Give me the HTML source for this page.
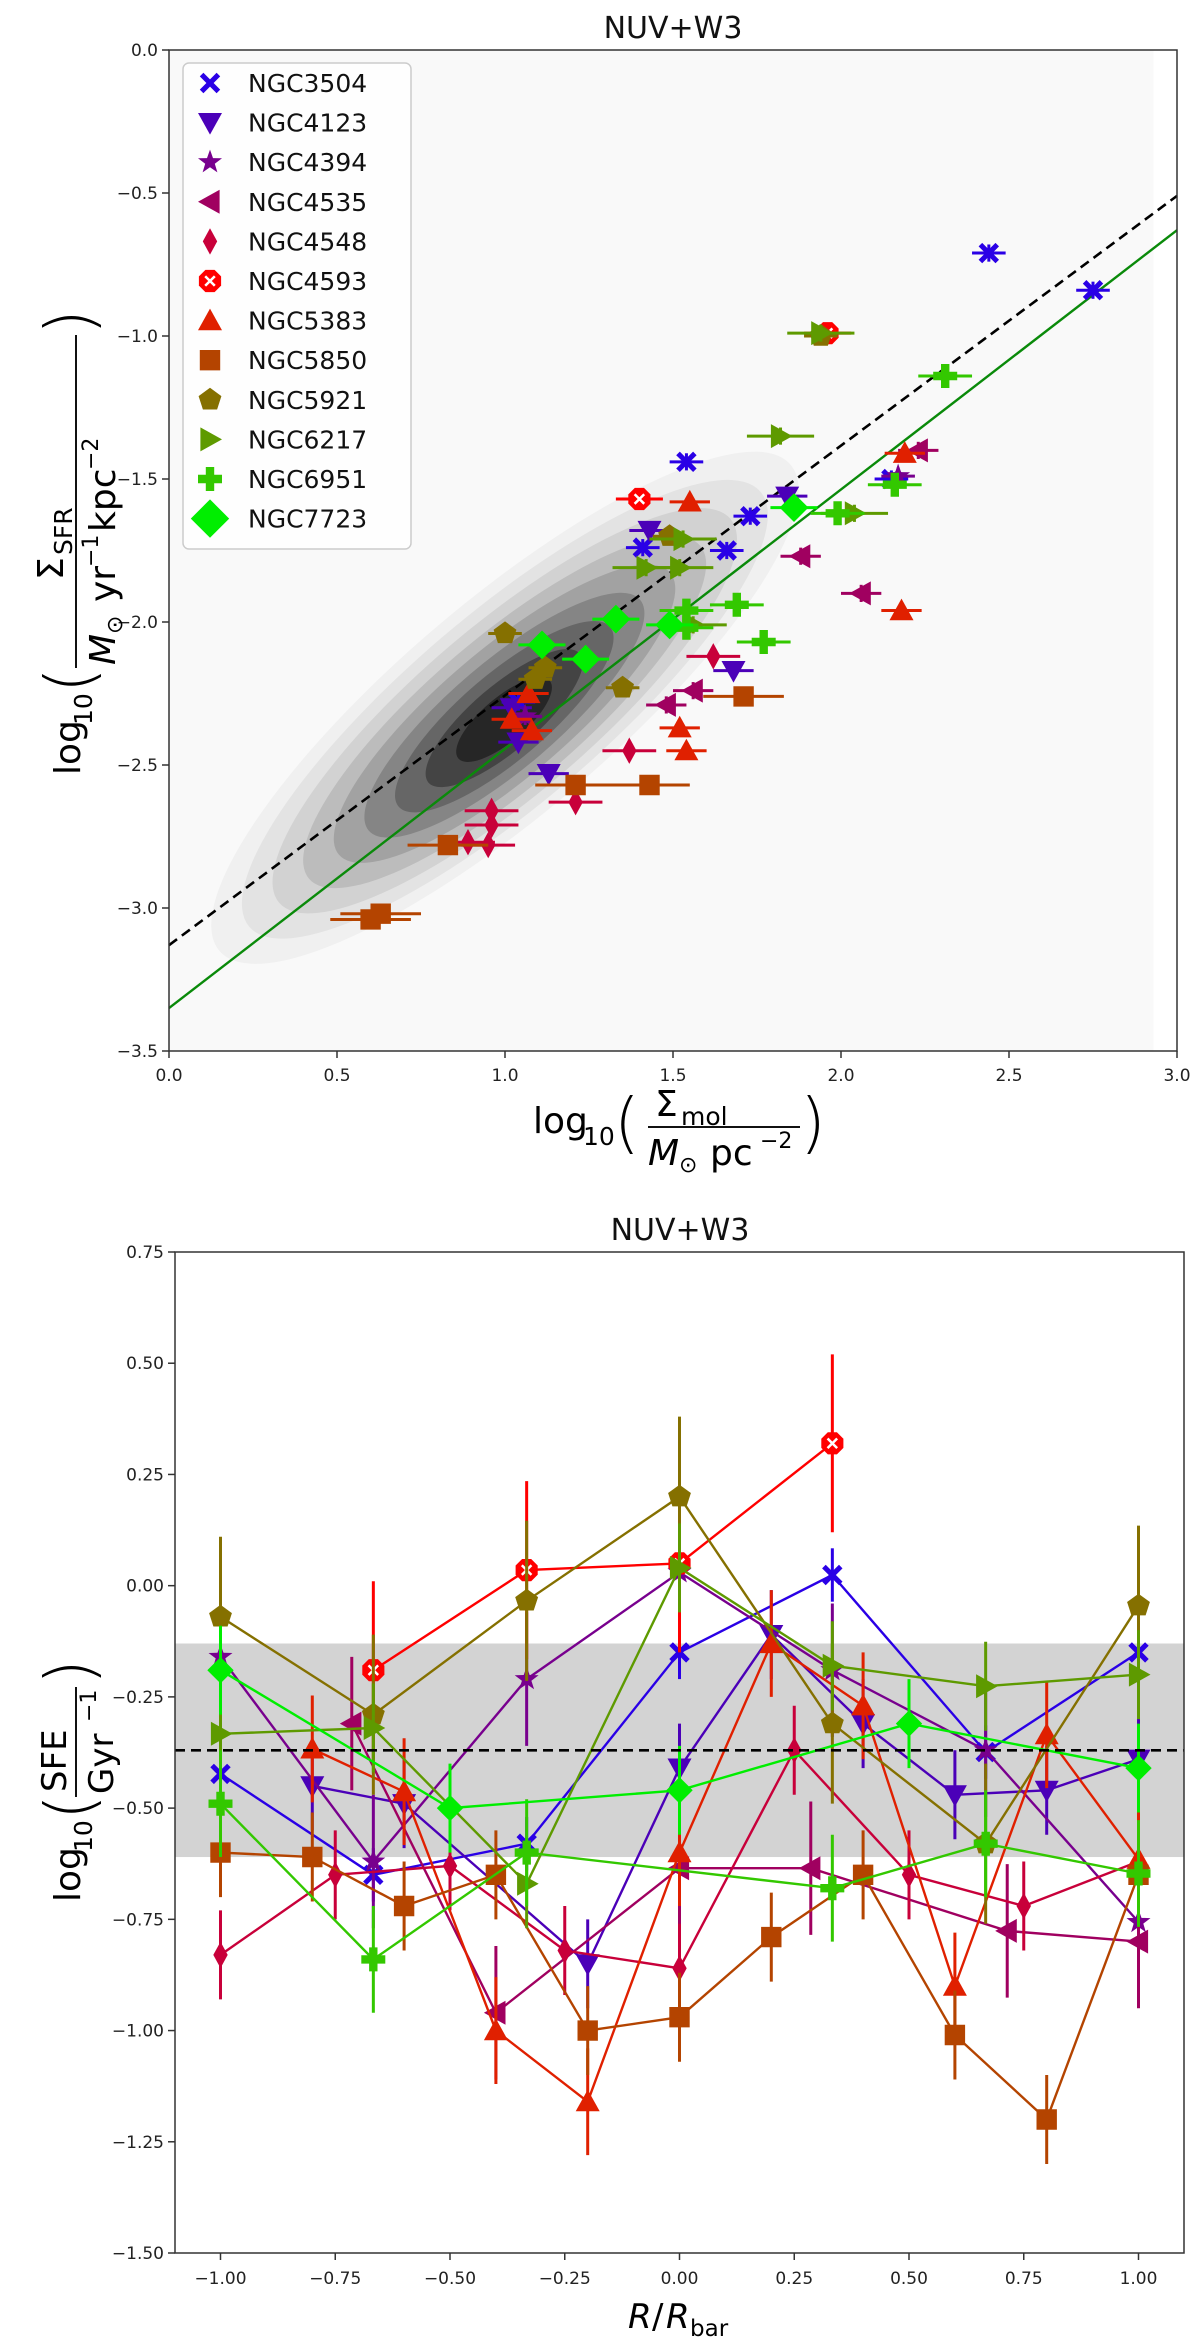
<!DOCTYPE html>
<html><head><meta charset="utf-8"><style>
html,body{margin:0;padding:0;background:#fff}
svg{display:block;font-family:"DejaVu Sans","Liberation Sans",sans-serif}
</style></head><body>
<svg id="fig" width="1200" height="2343" viewBox="0 0 1200 2343" xmlns="http://www.w3.org/2000/svg">
<g id="topPanel"></g>
<g id="bot"></g>
</svg>
<script>
// ---------- DATA ----------
const galaxies = ["NGC3504","NGC4123","NGC4394","NGC4535","NGC4548","NGC4593","NGC5383","NGC5850","NGC5921","NGC6217","NGC6951","NGC7723"];
const colors = ["#2a00e6","#4b00b8","#78008e","#a00060","#c8003a","#ff0000","#e02000","#b44400","#857000","#5e9a00","#33c800","#00ee00"];
const markers = ["X","v","*","<","d","o8","^","s","p",">","P","D"];
const topTicksX = ["0.0","0.5","1.0","1.5","2.0","2.5","3.0"];
const topTickValsX = [0,0.5,1,1.5,2,2.5,3];
const topTicksY = ["0.0","−0.5","−1.0","−1.5","−2.0","−2.5","−3.0","−3.5"];
const topTickValsY = [0,-0.5,-1,-1.5,-2,-2.5,-3,-3.5];
const topX = [
 [2.44,2.75,1.54,1.73,1.66,1.41,2.15,1.04],
 [1.43,1.84,1.68,1.13,1.04,1.02],
 [2.17,1.06],
 [2.23,1.88,2.06,1.56,1.48],
 [1.62,1.37,1.21,0.96,0.96,0.89,0.95],
 [1.40,1.96],
 [2.19,2.18,1.55,1.07,1.02,1.08,1.52,1.54],
 [1.71,1.43,1.21,0.83,0.63,0.60],
 [1.00,1.09,1.12,1.35,1.49,1.94],
 [1.94,1.82,2.04,1.53,1.42,1.52,1.56],
 [2.31,2.16,1.99,1.77,1.69,1.54,1.54],
 [1.86,1.33,1.49,1.11,1.24]
];
const topY = [
 [-0.71,-0.84,-1.44,-1.63,-1.75,-1.74,-1.50,-2.28],
 [-1.68,-1.56,-2.17,-2.53,-2.42,-2.30],
 [-1.49,-2.33],
 [-1.40,-1.77,-1.90,-2.24,-2.29],
 [-2.12,-2.45,-2.63,-2.66,-2.71,-2.77,-2.78],
 [-1.57,-0.99],
 [-1.41,-1.96,-1.58,-2.25,-2.34,-2.38,-2.37,-2.45],
 [-2.26,-2.57,-2.57,-2.78,-3.02,-3.04],
 [-2.04,-2.20,-2.16,-2.23,-1.70,-1.00],
 [-0.99,-1.35,-1.62,-1.71,-1.81,-1.81,-2.01],
 [-1.14,-1.52,-1.62,-2.07,-1.94,-1.96,-2.02],
 [-1.60,-1.99,-2.01,-2.08,-2.13]
];
const topXerr = [0.05,0.06,0.05,0.06,0.08,0.07,0.06,0.12,0.05,0.10,0.08,0.07];
const fitDashed = [[0,-3.13],[3.0,-0.51]];
const fitGreen = [[0,-3.35],[3.0,-0.63]];
const botTicksX = ["−1.00","−0.75","−0.50","−0.25","0.00","0.25","0.50","0.75","1.00"];
const botTickValsX = [-1,-0.75,-0.5,-0.25,0,0.25,0.5,0.75,1];
const botTicksY = ["0.75","0.50","0.25","0.00","−0.25","−0.50","−0.75","−1.00","−1.25","−1.50"];
const botTickValsY = [0.75,0.5,0.25,0,-0.25,-0.5,-0.75,-1,-1.25,-1.5];
const botX = [
 [-1,-0.667,-0.333,0,0.333,0.667,1],
 [-0.8,-0.6,-0.2,0,0.2,0.4,0.6,0.8,1],
 [-1,-0.667,-0.333,0,0.333,0.667,1],
 [-0.714,-0.4,0,0.286,0.714,1],
 [-1,-0.75,-0.5,-0.25,0,0.25,0.5,0.75,1],
 [-0.667,-0.333,0,0.333],
 [-0.8,-0.6,-0.4,-0.2,0,0.2,0.4,0.6,0.8,1],
 [-1,-0.8,-0.6,-0.4,-0.2,0,0.2,0.4,0.6,0.8,1],
 [-1,-0.667,-0.333,0,0.333,0.667,1],
 [-1,-0.667,-0.333,0,0.333,0.667,1],
 [-1,-0.667,-0.333,0.333,0.667,1],
 [-1,-0.5,0,0.5,1]
];
const botY = [
 [-0.423,-0.65,-0.58,-0.15,0.024,-0.374,-0.15],
 [-0.45,-0.49,-0.85,-0.41,-0.11,-0.31,-0.47,-0.46,-0.39],
 [-0.16,-0.62,-0.21,0.03,-0.19,-0.37,-0.756],
 [-0.31,-0.96,-0.635,-0.635,-0.776,-0.80],
 [-0.83,-0.65,-0.63,-0.82,-0.86,-0.37,-0.65,-0.72,-0.62],
 [-0.19,0.035,0.05,0.32],
 [-0.367,-0.463,-1.0,-1.16,-0.60,-0.13,-0.27,-0.90,-0.335,-0.615],
 [-0.60,-0.61,-0.72,-0.65,-1.00,-0.97,-0.79,-0.65,-1.01,-1.20,-0.65],
 [-0.07,-0.29,-0.034,0.20,-0.31,-0.58,-0.045],
 [-0.333,-0.32,-0.67,0.04,-0.18,-0.226,-0.20],
 [-0.49,-0.84,-0.60,-0.68,-0.58,-0.647],
 [-0.19,-0.50,-0.46,-0.31,-0.41]
];
const botYerr = [0.06,0.1,0.15,0.15,0.1,0.2,0.12,0.1,0.18,0.1,0.12,0.1];
const meanSFE = [-0.37];
const bandSFE = [-0.13,-0.61];

const NS="http://www.w3.org/2000/svg";
function E(tag,attrs,parent){const e=document.createElementNS(NS,tag);for(const k in attrs)e.setAttribute(k,attrs[k]);parent.appendChild(e);return e;}
function T(txt,attrs,parent){const e=E("text",attrs,parent);e.textContent=txt;return e;}
function marker(type,cx,cy,s,col,parent){
  const g=E("g",{},parent);
  const poly=(pts)=>E("polygon",{points:pts.map(p=>(cx+p[0]*s).toFixed(1)+","+(cy+p[1]*s).toFixed(1)).join(" "),fill:col},g);
  if(type==="X"){const a=0.35,b=1;poly([[-b,-b+a],[-b+a,-b],[0,-a],[b-a,-b],[b,-b+a],[a,0],[b,b-a],[b-a,b],[0,a],[-b+a,b],[-b,b-a],[-a,0]].map(p=>[p[0]*0.85,p[1]*0.85]));}
  else if(type==="v")poly([[-1,-0.8],[1,-0.8],[0,1]]);
  else if(type==="^")poly([[-1,0.8],[1,0.8],[0,-1]]);
  else if(type==="<")poly([[0.8,-1],[0.8,1],[-1,0]]);
  else if(type===">")poly([[-0.8,-1],[-0.8,1],[1,0]]);
  else if(type==="d")poly([[0,-1.1],[0.6,0],[0,1.1],[-0.6,0]]);
  else if(type==="D")poly([[0,-1.2],[1.2,0],[0,1.2],[-1.2,0]]);
  else if(type==="s")poly([[-0.85,-0.85],[0.85,-0.85],[0.85,0.85],[-0.85,0.85]]);
  else if(type==="P"){const a=0.35;poly([[-a,-1],[a,-1],[a,-a],[1,-a],[1,a],[a,a],[a,1],[-a,1],[-a,a],[-1,a],[-1,-a],[-a,-a]]);}
  else if(type==="p"){const pts=[];for(let i=0;i<5;i++){const t=-Math.PI/2+i*2*Math.PI/5;pts.push([Math.cos(t),Math.sin(t)]);}poly(pts);}
  else if(type==="*"){const pts=[];for(let i=0;i<10;i++){const t=-Math.PI/2+i*Math.PI/5;const r=i%2?0.42:1.05;pts.push([r*Math.cos(t),r*Math.sin(t)]);}poly(pts);}
  else if(type==="o8"){const pts=[];for(let i=0;i<8;i++){const t=Math.PI/8+i*Math.PI/4;pts.push([Math.cos(t),Math.sin(t)]);}poly(pts);
    E("path",{d:`M${cx-s*0.4},${cy-s*0.4}L${cx+s*0.4},${cy+s*0.4}M${cx+s*0.4},${cy-s*0.4}L${cx-s*0.4},${cy+s*0.4}`,stroke:"#fff","stroke-width":2.5},g);}
  return g;
}

// ---------- TOP PANEL ----------
const topG=document.getElementById("topPanel");
const TL=169,TR=1177,TT=50,TB=1051;
const tx=v=>TL+v*(TR-TL)/3.0;
const ty=v=>TT+(0-v)*(TB-TT)/3.5;
E("rect",{x:TL,y:TT,width:tx(2.93)-TL,height:TB-TT,fill:"#f9f9f9"},topG);
const kde=E("g",{},topG);
const kdeShades=["#f0f0f0","#e3e3e3","#d2d2d2","#bcbcbc","#a2a2a2","#858585","#666666","#444444","#262626"];
const cxk=tx(1.0),cyk=ty(-2.3);
kdeShades.forEach((c,i)=>{const f=1-i*0.105;
  E("ellipse",{cx:cxk+(1-f)*(-10),cy:cyk+(1-f)*(10),rx:375*f,ry:(100*f+6),fill:c,transform:`rotate(-40.4 ${cxk} ${cyk})`},kde);});
let l=E("line",{x1:tx(fitDashed[0][0]),y1:ty(fitDashed[0][1]),x2:tx(fitDashed[1][0]),y2:ty(fitDashed[1][1]),stroke:"#000","stroke-width":2.6,"stroke-dasharray":"10,6"},topG);

l=E("line",{x1:tx(fitGreen[0][0]),y1:ty(fitGreen[0][1]),x2:tx(fitGreen[1][0]),y2:ty(fitGreen[1][1]),stroke:"#0a8a0a","stroke-width":2.4},topG);

galaxies.forEach((g,gi)=>{
  const grp=E("g",{},topG);
  
  
  topX[gi].forEach((xv,i)=>{const yv=topY[gi][i];
    E("line",{x1:tx(xv-topXerr[gi]),x2:tx(xv+topXerr[gi]),y1:ty(yv),y2:ty(yv),stroke:colors[gi],"stroke-width":3},grp);
    E("line",{x1:tx(xv),x2:tx(xv),y1:ty(yv-0.03),y2:ty(yv+0.03),stroke:colors[gi],"stroke-width":3},grp);
    const m=marker(markers[gi],tx(xv),ty(yv),12,colors[gi],grp);
    
    
  });
});
E("rect",{x:TL,y:TT,width:TR-TL,height:TB-TT,fill:"none",stroke:"#333","stroke-width":1.5},topG);
topTickValsX.forEach((v,i)=>{E("line",{x1:tx(v),x2:tx(v),y1:TB,y2:TB+7,stroke:"#333","stroke-width":1.5},topG);
  const t=T(topTicksX[i],{x:tx(v),y:TB+30,"text-anchor":"middle","font-size":17,fill:"#222"},topG);
  });
topTickValsY.forEach((v,i)=>{E("line",{x1:TL-7,x2:TL,y1:ty(v),y2:ty(v),stroke:"#333","stroke-width":1.5},topG);
  const t=T(topTicksY[i],{x:TL-11,y:ty(v)+6,"text-anchor":"end","font-size":17,fill:"#222"},topG);
  });
const lg=E("g",{},topG);
E("rect",{x:183,y:63,width:228,height:486,rx:6,fill:"#fff","fill-opacity":0.85,stroke:"#ccc","stroke-width":1.5},lg);
galaxies.forEach((g,gi)=>{const y=83+gi*39.6;
  const e=E("g",{},lg);
  marker(markers[gi],210,y,gi===11?16:12,colors[gi],e);
  T(g,{x:248,y:y+9,"font-size":25,fill:"#111"},e);});

// ---------- TITLES & LABELS ----------
(function(){
let t=T("NUV+W3",{x:673,y:38,"text-anchor":"middle","font-size":30,fill:"#111"},topG);

const xl=E("g",{},topG);
T("log",{x:533,y:1133,"font-size":36},xl);T("10",{x:583,y:1145,"font-size":25},xl);
T("(",{x:614,y:1145,"font-size":66,"font-weight":"lighter"},xl);
T("Σ",{x:655,y:1116,"font-size":36},xl);T("mol",{x:681,y:1125,"font-size":25},xl);
E("line",{x1:648,x2:800,y1:1127,y2:1127,stroke:"#111","stroke-width":2},xl);
T("M",{x:648,y:1165,"font-size":36,"font-style":"italic"},xl);T("⊙",{x:679,y:1172,"font-size":22},xl);
T("pc",{x:710,y:1165,"font-size":36},xl);T("−2",{x:760,y:1148,"font-size":22},xl);
T(")",{x:800,y:1145,"font-size":66,"font-weight":"lighter"},xl);
const yl=E("g",{transform:"translate(80,540) rotate(-90)"},topG);
T("log",{x:-235,y:0,"font-size":36},yl);T("10",{x:-185,y:12,"font-size":25},yl);
T("(",{x:-153,y:12,"font-size":66,"font-weight":"lighter"},yl);
T("Σ",{x:-40,y:-17,"font-size":36},yl);T("SFR",{x:-15,y:-8,"font-size":25},yl);
E("line",{x1:-128,x2:205,y1:-4,y2:-4,stroke:"#111","stroke-width":2},yl);
T("M",{x:-125,y:35,"font-size":36,"font-style":"italic"},yl);T("⊙",{x:-94,y:42,"font-size":22},yl);
T("yr",{x:-62,y:35,"font-size":36},yl);T("−1",{x:-27,y:18,"font-size":22},yl);
T("kpc",{x:8,y:35,"font-size":36},yl);T("−2",{x:70,y:18,"font-size":22},yl);
T(")",{x:205,y:12,"font-size":66,"font-weight":"lighter"},yl);
})();

// ---------- BOTTOM PANEL ----------
(function(){
const bot=document.getElementById("bot");
const BL=175,BR=1184,BT=1252,BB=2253;
const bx=v=>220.5+(v+1)*459;
const by=v=>BT+(0.75-v)*(BB-BT)/2.25;
let r=E("rect",{x:BL,y:by(bandSFE[0]),width:BR-BL,height:by(bandSFE[1])-by(bandSFE[0]),fill:"#d3d3d3"},bot);

galaxies.forEach((g,gi)=>{
  const grp=E("g",{},bot);
  
  
  const pts=botX[gi].map((xv,i)=>bx(xv).toFixed(1)+","+by(botY[gi][i]).toFixed(1)).join(" ");
  E("polyline",{points:pts,fill:"none",stroke:colors[gi],"stroke-width":2.4},grp);
  botX[gi].forEach((xv,i)=>{const yv=botY[gi][i];
    E("line",{x1:bx(xv),x2:bx(xv),y1:by(yv+botYerr[gi]),y2:by(yv-botYerr[gi]),stroke:colors[gi],"stroke-width":3},grp);
  });
  botX[gi].forEach((xv,i)=>{
    const m=marker(markers[gi],bx(xv),by(botY[gi][i]),markers[gi]==="D"?11:12,colors[gi],grp);
    
    
  });
});
let ml=E("line",{x1:BL,x2:BR,y1:by(meanSFE[0]),y2:by(meanSFE[0]),stroke:"#000","stroke-width":2.6,"stroke-dasharray":"10,6"},bot);

E("rect",{x:BL,y:BT,width:BR-BL,height:BB-BT,fill:"none",stroke:"#333","stroke-width":1.5},bot);
botTickValsX.forEach((v,i)=>{E("line",{x1:bx(v),x2:bx(v),y1:BB,y2:BB+7,stroke:"#333","stroke-width":1.5},bot);
  const t=T(botTicksX[i],{x:bx(v),y:BB+31,"text-anchor":"middle","font-size":17,fill:"#222"},bot);
  });
botTickValsY.forEach((v,i)=>{E("line",{x1:BL-7,x2:BL,y1:by(v),y2:by(v),stroke:"#333","stroke-width":1.5},bot);
  const t=T(botTicksY[i],{x:BL-11,y:by(v)+6,"text-anchor":"end","font-size":17,fill:"#222"},bot);
  });
let t=T("NUV+W3",{x:680,y:1240,"text-anchor":"middle","font-size":30,fill:"#111"},bot);

const xl=E("g",{},bot);
T("R",{x:628,y:2328,"font-size":34,"font-style":"italic"},xl);T("/",{x:652,y:2328,"font-size":34},xl);
T("R",{x:666,y:2328,"font-size":34,"font-style":"italic"},xl);T("bar",{x:690,y:2336,"font-size":23},xl);
const yl=E("g",{transform:"translate(80,1752) rotate(-90)"},bot);
T("log",{x:-150,y:0,"font-size":36},yl);T("10",{x:-100,y:12,"font-size":25},yl);
T("(",{x:-68,y:12,"font-size":66,"font-weight":"lighter"},yl);
T("SFE",{x:-40,y:-14,"font-size":34},yl);
E("line",{x1:-45,x2:65,y1:-4,y2:-4,stroke:"#111","stroke-width":2},yl);
T("Gyr",{x:-42,y:33,"font-size":34},yl);T("−1",{x:30,y:16,"font-size":22},yl);
T(")",{x:67,y:12,"font-size":66,"font-weight":"lighter"},yl);
})();
</script>
</body></html>
